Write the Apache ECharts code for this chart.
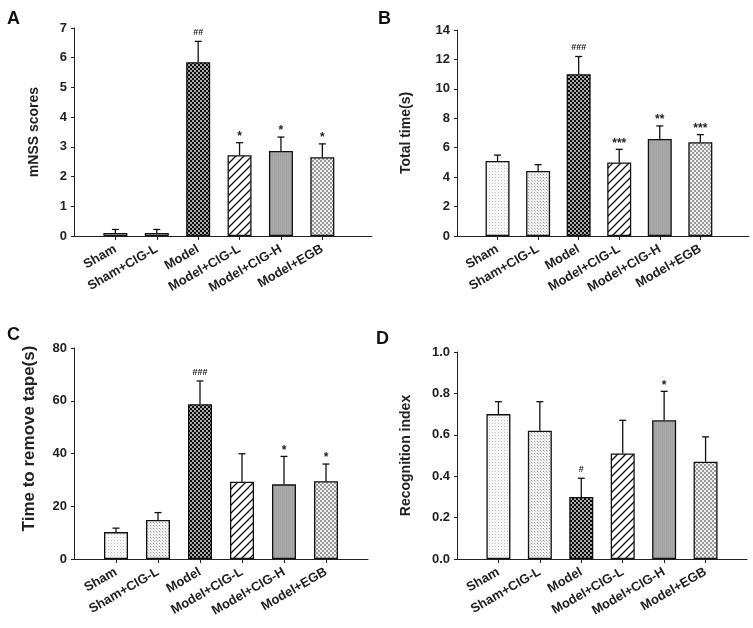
<!DOCTYPE html>
<html>
<head>
<meta charset="utf-8">
<script src="https://cdn.jsdelivr.net/npm/echarts@6/dist/echarts.min.js"></script>
<style>
html,body{margin:0;padding:0;background:#fff;}
#chart{width:753px;height:628px;}
</style>
</head>
<body>
<div id="chart"></div>
<script>
// ---- data ----
const categories = ['Sham', 'Sham+CIG-L', 'Model', 'Model+CIG-L', 'Model+CIG-H', 'Model+EGB'];

const mnssMean = [0.10, 0.10, 5.85, 2.72, 2.86, 2.65];
const mnssErr  = [0.12, 0.12, 0.70, 0.42, 0.47, 0.45];
const mnssMarks = ['', '', '##', '*', '*', '*'];

const totalMean = [5.10, 4.42, 11.00, 5.00, 6.59, 6.37];
const totalErr  = [0.40, 0.43, 1.20, 0.89, 0.89, 0.52];
const totalMarks = ['', '', '###', '***', '**', '***'];

const tapeMean = [10.2, 14.8, 58.7, 29.3, 28.3, 29.5];
const tapeErr  = [1.5, 2.8, 8.8, 10.6, 10.6, 6.5];
const tapeMarks = ['', '', '###', '', '*', '*'];

const recogMean = [0.70, 0.62, 0.30, 0.51, 0.67, 0.47];
const recogErr  = [0.06, 0.14, 0.09, 0.16, 0.14, 0.12];
const recogMarks = ['', '', '#', '', '*', ''];

const yMaxList = [7, 14, 80, 1.0];
const yIntervalList = [1, 2, 20, 0.2];
const yTitles = ['mNSS scores', 'Total time(s)', 'Time to remove tape(s)', 'Recognition index'];
const panelLetters = ['A', 'B', 'C', 'D'];

// ---- patterns ----
function tile(w, h, draw) {
  const c = document.createElement('canvas');
  c.width = w; c.height = h;
  const g = c.getContext('2d');
  draw(g);
  return { image: c, repeat: 'repeat' };
}
const patterns = [
  tile(3, 3, g => { g.fillStyle = '#f6f6f6'; g.fillRect(0,0,3,3); g.fillStyle = '#c4c4c4'; g.fillRect(0,0,1,1); }),
  tile(3, 3, g => { g.fillStyle = '#f0f0f0'; g.fillRect(0,0,3,3); g.fillStyle = '#a0a0a0'; g.fillRect(0,0,1,1); g.fillStyle='#d0d0d0'; g.fillRect(1,1,1,1); }),
  tile(4, 4, g => { g.fillStyle = '#0e0e0e'; g.fillRect(0,0,4,4); g.fillStyle = '#a8a8a8'; g.fillRect(0,0,2,2); g.fillRect(2,2,2,2); }),
  tile(8, 8, g => { g.fillStyle = '#ffffff'; g.fillRect(0,0,8,8); g.strokeStyle = '#111'; g.lineWidth = 1.3;
    g.beginPath(); g.moveTo(-1,9); g.lineTo(9,-1); g.moveTo(-1,1); g.lineTo(1,-1); g.moveTo(7,9); g.lineTo(9,7); g.stroke(); }),
  tile(2, 2, g => { g.fillStyle = '#aaaaaa'; g.fillRect(0,0,2,2); g.fillStyle = '#a2a2a2'; g.fillRect(0,0,1,2); }),
  tile(4, 4, g => { g.fillStyle = '#eeeeee'; g.fillRect(0,0,4,4); g.fillStyle = '#9a9a9a'; g.fillRect(0,0,2,2); g.fillRect(2,2,2,2); })
];

const panels = [
  { mean: mnssMean, err: mnssErr, marks: mnssMarks },
  { mean: totalMean, err: totalErr, marks: totalMarks },
  { mean: tapeMean, err: tapeErr, marks: tapeMarks },
  { mean: recogMean, err: recogErr, marks: recogMarks }
];

const grids = [
  { left: 74, top: 28, width: 298, height: 208 },
  { left: 457, top: 30, width: 292, height: 206 },
  { left: 74, top: 348, width: 294, height: 211 },
  { left: 457, top: 352, width: 290, height: 207 }
];
const xMax = [7.2, 7.2, 7.0, 7.0];
const nameGaps = [33, 44, 36, 44];
const nameSizes = [14, 14, 17, 14];
const namePads = [[0,0,0,0], [0,0,0,0], [0,0,0,30], [0,0,0,0]];
const letterPos = [[7, 10], [378, 10], [7, 326], [376, 330]];

const FONT = 'Arial, "Liberation Sans", sans-serif';
const positions = categories.map((c, j) => j + 1);

const xAxes = [], yAxes = [], series = [], graphics = [];
panels.forEach((p, i) => {
  xAxes.push({
    type: 'value', gridIndex: i, min: 0, max: xMax[i], interval: 1,
    splitLine: { show: false },
    axisLine: { show: true, onZero: false, lineStyle: { color: '#222', width: 1 } },
    axisTick: { show: true, customValues: positions, length: 4, lineStyle: { color: '#222' } },
    axisLabel: {
      customValues: positions, rotate: 30, margin: 12,
      formatter: v => categories[Math.round(v) - 1] || '',
      fontFamily: FONT, fontWeight: 'bold', fontSize: 13, color: '#222'
    }
  });
  yAxes.push({
    type: 'value', gridIndex: i, min: 0, max: yMaxList[i], interval: yIntervalList[i],
    splitLine: { show: false },
    axisLine: { show: true, lineStyle: { color: '#222', width: 1 } },
    axisTick: { show: true, length: 3, lineStyle: { color: '#222' } },
    axisLabel: {
      fontFamily: FONT, fontWeight: 'bold', fontSize: 13, color: '#222', margin: 7,
      formatter: v => i === 3 ? v.toFixed(1) : String(v)
    },
    name: yTitles[i], nameLocation: 'middle', nameGap: nameGaps[i],
    nameTextStyle: { fontFamily: FONT, fontWeight: 'bold', fontSize: nameSizes[i], color: '#222', padding: namePads[i] }
  });
  series.push({
    type: 'bar', xAxisIndex: i, yAxisIndex: i, barWidth: 24,
    data: p.mean.map((m, j) => ({
      value: [positions[j], m],
      itemStyle: { color: patterns[j], borderColor: '#111', borderWidth: 1.3 }
    })),
    animation: false
  });
  const marks = p.marks;
  series.push({
    type: 'custom', xAxisIndex: i, yAxisIndex: i, z: 5, animation: false,
    data: p.mean.map((m, j) => [positions[j], m, m + p.err[j]]),
    renderItem: (params, api) => {
      const x = api.value(0), m = api.value(1), t = api.value(2);
      const p0 = api.coord([x, m]);
      const p1 = api.coord([x, t]);
      const st = { stroke: '#111', lineWidth: 1.3 };
      const children = [
        { type: 'line', shape: { x1: p0[0], y1: p0[1], x2: p1[0], y2: p1[1] }, style: st },
        { type: 'line', shape: { x1: p1[0] - 3.5, y1: p1[1], x2: p1[0] + 3.5, y2: p1[1] }, style: st }
      ];
      const mk = marks[params.dataIndex];
      if (mk) {
        const isHash = mk.indexOf('#') >= 0;
        children.push({
          type: 'text',
          style: {
            text: mk, x: p1[0], y: p1[1] - (isHash ? 4 : 0),
            textAlign: 'center', textVerticalAlign: 'bottom',
            font: 'bold ' + (isHash ? 9 : 12) + 'px ' + FONT, fill: '#222'
          }
        });
      }
      return { type: 'group', children };
    }
  });
  graphics.push({
    type: 'text', left: letterPos[i][0], top: letterPos[i][1],
    style: { text: panelLetters[i], font: 'bold 18px ' + FONT, fill: '#111' }
  });
});

const chart = echarts.init(document.getElementById('chart'), null, { renderer: 'canvas' });
chart.setOption({
  backgroundColor: '#fff',
  animation: false,
  grid: grids,
  xAxis: xAxes,
  yAxis: yAxes,
  series: series,
  graphic: graphics
});
</script>
</body>
</html>
